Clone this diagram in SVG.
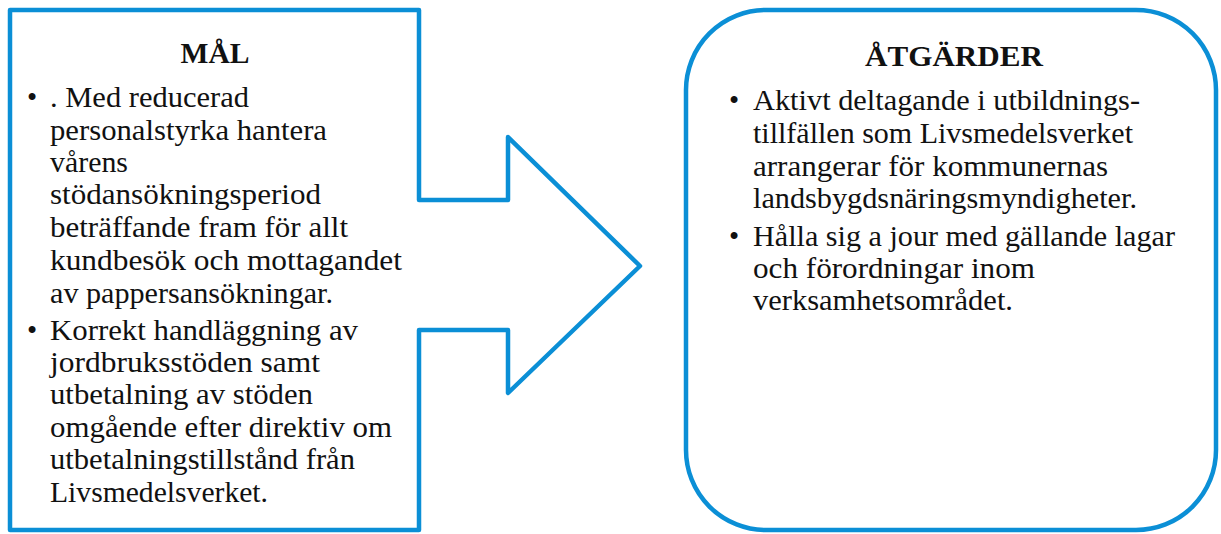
<svg xmlns="http://www.w3.org/2000/svg" width="1221" height="534" viewBox="0 0 1221 534">
<style>
.shape{fill:#ffffff;stroke:#0b8fd6;stroke-width:4.5;stroke-linejoin:round}
.t{font-family:'Liberation Serif','DejaVu Serif',serif;font-size:29px;font-weight:normal;fill:#111111}
.h{font-family:'Liberation Serif','DejaVu Serif',serif;font-size:29px;font-weight:bold;fill:#111111}
</style>
<rect width="1221" height="534" fill="#ffffff"/>
<g id="mal">
<path class="shape" d="M10,10 H419 V200 H508 V137 L640,266 L508,393 V330 H419 V530 H10 Z"/>
<text class="h" x="215" y="63" text-anchor="middle" textLength="69" lengthAdjust="spacingAndGlyphs">MÅL</text>
<text class="t" x="27" y="107">•</text>
<text class="t" x="50" y="107" textLength="199" lengthAdjust="spacingAndGlyphs">. Med reducerad</text>
<text class="t" x="50" y="140" textLength="277" lengthAdjust="spacingAndGlyphs">personalstyrka hantera</text>
<text class="t" x="50" y="172" textLength="78" lengthAdjust="spacingAndGlyphs">vårens</text>
<text class="t" x="50" y="204" textLength="271" lengthAdjust="spacingAndGlyphs">stödansökningsperiod</text>
<text class="t" x="50" y="237" textLength="298" lengthAdjust="spacingAndGlyphs">beträffande fram för allt</text>
<text class="t" x="50" y="270" textLength="352" lengthAdjust="spacingAndGlyphs">kundbesök och mottagandet</text>
<text class="t" x="50" y="303" textLength="283" lengthAdjust="spacingAndGlyphs">av pappersansökningar.</text>
<text class="t" x="27" y="340">•</text>
<text class="t" x="50" y="340" textLength="308" lengthAdjust="spacingAndGlyphs">Korrekt handläggning av</text>
<text class="t" x="50" y="372" textLength="270" lengthAdjust="spacingAndGlyphs">jordbruksstöden samt</text>
<text class="t" x="50" y="404" textLength="263" lengthAdjust="spacingAndGlyphs">utbetalning av stöden</text>
<text class="t" x="50" y="437" textLength="342" lengthAdjust="spacingAndGlyphs">omgående efter direktiv om</text>
<text class="t" x="50" y="469" textLength="305" lengthAdjust="spacingAndGlyphs">utbetalningstillstånd från</text>
<text class="t" x="50" y="502" textLength="218" lengthAdjust="spacingAndGlyphs">Livsmedelsverket.</text>
</g>
<g id="atgarder">
<rect class="shape" x="686" y="10" width="530" height="520" rx="80" ry="80"/>
<text class="h" x="954" y="66" text-anchor="middle" textLength="178" lengthAdjust="spacingAndGlyphs">ÅTGÄRDER</text>
<text class="t" x="729" y="110">•</text>
<text class="t" x="753" y="110" textLength="387" lengthAdjust="spacingAndGlyphs">Aktivt deltagande i utbildnings-</text>
<text class="t" x="753" y="143" textLength="380" lengthAdjust="spacingAndGlyphs">tillfällen som Livsmedelsverket</text>
<text class="t" x="753" y="176" textLength="355" lengthAdjust="spacingAndGlyphs">arrangerar för kommunernas</text>
<text class="t" x="753" y="208" textLength="384" lengthAdjust="spacingAndGlyphs">landsbygdsnäringsmyndigheter.</text>
<text class="t" x="729" y="246">•</text>
<text class="t" x="753" y="246" textLength="422" lengthAdjust="spacingAndGlyphs">Hålla sig a jour med gällande lagar</text>
<text class="t" x="753" y="278" textLength="282" lengthAdjust="spacingAndGlyphs">och förordningar inom</text>
<text class="t" x="753" y="310" textLength="260" lengthAdjust="spacingAndGlyphs">verksamhetsområdet.</text>
</g>
</svg>
